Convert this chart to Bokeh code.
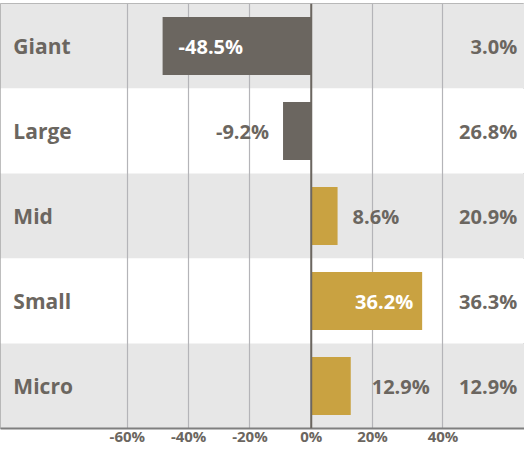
from bokeh.plotting import figure
from bokeh.models import ColumnDataSource, FactorRange, Range1d, FixedTicker, Span
from bokeh.core.properties import value
from bokeh.embed import file_html
from bokeh.resources import INLINE

# ---- data ----
categories = ["Giant", "Large", "Mid", "Small", "Micro"]
returns = [-48.5, -9.2, 8.6, 36.2, 12.9]
right_values = [3.0, 26.8, 20.9, 36.3, 12.9]
tick_values = [-60, -40, -20, 0, 20, 43]
tick_labels = ["-60%", "-40%", "-20%", "0%", "20%", "40%"]

FONT = "Open Sans"
TXT = "#6b6660"
NEG = "#6b6660"
POS = "#c9a241"
ROW = "#e7e7e7"

p = figure(width=524, height=448, output_backend="svg", toolbar_location=None,
           y_range=FactorRange(factors=list(reversed(categories)), range_padding=0),
           x_range=Range1d(-101.4, 69.6),
           min_border_left=0, min_border_right=0, min_border_top=3, min_border_bottom=0)
p.background_fill_color = "white"
p.border_fill_color = "white"
p.outline_line_color = "#a9a9a9"
p.outline_line_width = 1

# row backgrounds
row_colors = [ROW if i % 2 == 0 else "white" for i in range(len(categories))]
bg = ColumnDataSource(dict(y=categories, c=row_colors))
r_bg = p.hbar(y="y", left=-200, right=200, height=1.0, fill_color="c", line_color=None, source=bg)
r_bg.level = "image"

# bars
bar_colors = [NEG if v < 0 else POS for v in returns]
src = ColumnDataSource(dict(y=categories, v=returns, c=bar_colors))
p.hbar(y="y", left=0, right="v", height=0.68, fill_color="c", line_color=None, source=src)

# value labels
inside = [abs(v) > 30 for v in returns]
pads = [16, 14, 15, 9, 21]
lab_align, lab_off, lab_col = [], [], []
for v, ins, pad in zip(returns, inside, pads):
    if ins:
        lab_col.append("white")
        if v < 0:
            lab_align.append("left"); lab_off.append(pad)
        else:
            lab_align.append("right"); lab_off.append(-pad)
    else:
        lab_col.append(TXT)
        if v < 0:
            lab_align.append("right"); lab_off.append(-pad)
        else:
            lab_align.append("left"); lab_off.append(pad)
lab = ColumnDataSource(dict(y=categories, x=returns,
                            t=[f"{v:.1f}%" for v in returns],
                            a=lab_align, o=lab_off, c=lab_col))
p.text(x="x", y="y", text="t", text_align="a", x_offset="o", text_color="c",
       text_baseline="middle", text_font=value(FONT), text_font_style="bold",
       text_font_size="20px", source=lab)

# category names
names = ColumnDataSource(dict(y=categories, t=categories))
p.text(x=-97.2, y="y", text="t", text_align="left", text_baseline="middle",
       text_color=TXT, text_font=value(FONT), text_font_style="bold",
       text_font_size="21px", source=names)

# right column values
rv = ColumnDataSource(dict(y=categories, t=[f"{v:.1f}%" for v in right_values]))
p.text(x=67.2, y="y", text="t", text_align="right", text_baseline="middle",
       text_color=TXT, text_font=value(FONT), text_font_style="bold",
       text_font_size="20px", source=rv)

# zero line
p.add_layout(Span(location=0, dimension="height", line_color=NEG, line_width=2))

# grid and axes
p.ygrid.grid_line_color = None
p.xgrid.grid_line_color = "#b4b4b8"
p.xgrid.grid_line_width = 1.2
p.xgrid.level = "underlay"
p.xgrid.ticker = FixedTicker(ticks=tick_values)
p.yaxis.visible = False
xa = p.xaxis[0]
xa.ticker = FixedTicker(ticks=tick_values)
xa.major_label_overrides = {t: l for t, l in zip(tick_values, tick_labels)}
xa.axis_line_color = "#7f7f7f"
xa.axis_line_width = 2
xa.major_tick_line_color = None
xa.minor_tick_line_color = None
xa.major_tick_out = 0
xa.major_tick_in = 0
xa.major_label_standoff = -3
xa.major_label_text_font = FONT
xa.major_label_text_font_style = "bold"
xa.major_label_text_font_size = "15px"
xa.major_label_text_color = TXT

open("out.html", "w").write(file_html(p, INLINE))
